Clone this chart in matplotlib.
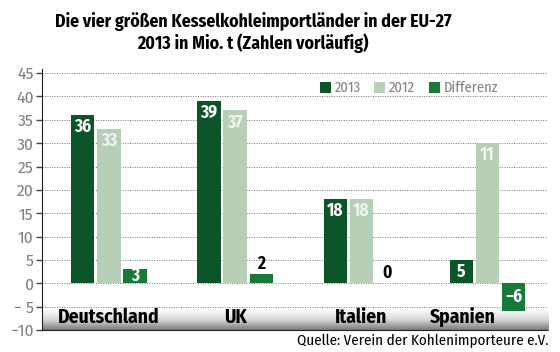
import matplotlib
matplotlib.use("Agg")
import matplotlib.pyplot as plt
import numpy as np
from matplotlib.colors import LinearSegmentedColormap

countries = ["Deutschland", "UK", "Italien", "Spanien"]
v2013 = [36, 39, 18, 5]
v2012 = [33, 37, 18, 30]
diff = [3, 2, 0, -6]
lab2013 = ["36", "39", "18", "5"]
lab2012 = ["33", "37", "18", "11"]
labdiff = ["3", "2", "0", "\u22126"]
yticks = [-10, -5, 0, 5, 10, 15, 20, 25, 30, 35, 40, 45]
yticklabels = ["\u221210", "\u2212 5", "0", "5", "10", "15", "20", "25", "30", "35", "40", "45"]

c2013 = "#0b5529"
c2012 = "#b7cfb6"
cdiff = "#177a38"

plt.rcParams['font.family'] = ['Fira Sans Condensed', 'DejaVu Sans']

fig = plt.figure(figsize=(5.6, 3.52), dpi=100)
ax = fig.add_axes([0.075, 0.0625, 0.904, 0.743])
x = np.arange(len(countries))
w = 0.185
step = 0.207

ax.set_xlim(-0.53, 3.48)
ax.set_ylim(-10, 46)

# gradient band at bottom
grad = np.linspace(0, 1, 100).reshape(-1, 1)
cmap = LinearSegmentedColormap.from_list("g", ["#7a7a7a", "#d8d8d8", "#ffffff"])
ax.imshow(grad, extent=(-0.53, 3.48, -10, -5.6), aspect='auto', cmap=cmap,
          origin='lower', zorder=0.5)

for yv in yticks:
    if yv == -10:
        continue
    ax.axhline(yv, color="#777777", lw=0.7, ls=(0, (1, 1.5)), zorder=0.8)

ax.bar(x - step, v2013, w, color=c2013, zorder=2, label="2013")
ax.bar(x, v2012, w, color=c2012, zorder=2, label="2012")
ax.bar(x + step, diff, w, color=cdiff, zorder=2, label="Differenz")

fs = 12.5
for i in range(len(countries)):
    ax.text(x[i] - step, v2013[i] - 2.6, lab2013[i], ha='center', va='center',
            color='white', fontsize=fs, fontweight='bold', zorder=3)
    ax.text(x[i], v2012[i] - 2.6, lab2012[i], ha='center', va='center',
            color='#eef4ee', fontsize=fs, fontweight='bold', zorder=3)
    d = diff[i]
    if d >= 3:
        ax.text(x[i] + step, d / 2, labdiff[i], ha='center', va='center',
                color='white', fontsize=fs, fontweight='bold', zorder=3)
    elif d >= 0:
        ax.text(x[i] + step, d + 0.3, labdiff[i], ha='center', va='bottom',
                color='black', fontsize=fs, fontweight='bold', zorder=3)
    else:
        ax.text(x[i] + step, d + 3.0, labdiff[i], ha='center', va='center',
                color='white', fontsize=fs, fontweight='bold', zorder=3)
    # category name; shift left when the difference bar dips into the label band
    xoff = -0.2 if diff[i] < -4 else 0.0
    ax.text(x[i] + xoff, -7.3, countries[i], ha='center', va='center', color='black',
            fontsize=14, fontweight='bold', zorder=3)

ax.set_yticks(yticks)
ax.set_yticklabels(yticklabels, color="#808080", fontsize=12.5)
ax.tick_params(axis='y', length=4, width=1, color="#444444", pad=2)
ax.set_xticks([])
for s in ['top', 'right']:
    ax.spines[s].set_visible(False)
ax.spines['left'].set_linestyle((0, (1, 1)))
ax.spines['left'].set_color("#222222")
ax.spines['bottom'].set_linestyle((0, (1, 1)))
ax.spines['bottom'].set_color("#222222")

leg = ax.legend(loc='upper left', bbox_to_anchor=(0.549, 0.952), ncol=3, frameon=False,
                fontsize=10.5, handlelength=0.75, handleheight=0.75, handletextpad=0.25,
                columnspacing=0.95, borderaxespad=0, borderpad=0)
for t in leg.get_texts():
    t.set_color("#808080")

fig.text(0.452, 0.940, "Die vier größen Kesselkohleimportländer in der EU-27",
         ha='center', va='center', fontsize=12.8, fontweight='bold')
fig.text(0.452, 0.876, "2013 in Mio. t (Zahlen vorläufig)",
         ha='center', va='center', fontsize=12.8, fontweight='bold')
fig.text(0.979, 0.032, "Quelle: Verein der Kohlenimporteure e.V.", ha='right',
         va='center', fontsize=10.8)

fig.savefig("out.png", dpi=100)
